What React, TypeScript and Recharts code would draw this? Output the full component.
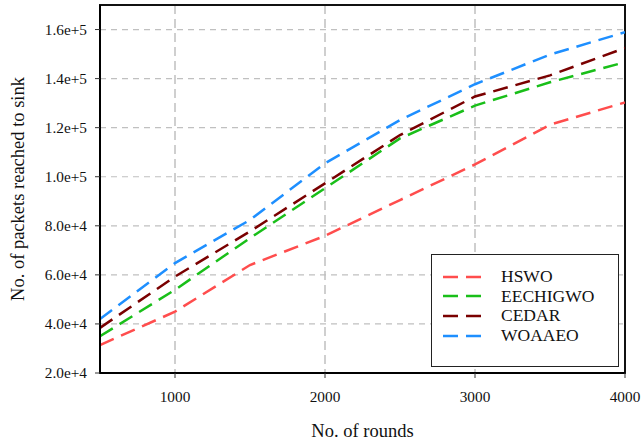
import React from 'react';
import {
  LineChart,
  Line,
  XAxis,
  YAxis,
  CartesianGrid,
  Legend,
  ReferenceArea,
} from 'recharts';

const rounds = [500, 1000, 1500, 2000, 2500, 3000, 3500, 4000];
const hswo = [31400, 45000, 64000, 75900, 90500, 105000, 121200, 130300];
const eechigwo = [35000, 53900, 75000, 95300, 115600, 129000, 138500, 146700];
const cedar = [38400, 59300, 77700, 97300, 117000, 132700, 141300, 152500];
const woaaeo = [42000, 64800, 82400, 105500, 123100, 137700, 149800, 158900];

const xTicks = [1000, 2000, 3000, 4000];
const yTicks = [20000, 40000, 60000, 80000, 100000, 120000, 140000, 160000];

const seriesNames = ['HSWO', 'EECHIGWO', 'CEDAR', 'WOAAEO'];
const seriesColors = ['#ff4d4d', '#19bf19', '#7a0000', '#1e8fff'];

const data = rounds.map((r, i) => ({
  round: r,
  HSWO: hswo[i],
  EECHIGWO: eechigwo[i],
  CEDAR: cedar[i],
  WOAAEO: woaaeo[i],
}));

const FONT = '"Liberation Serif", "Times New Roman", serif';
const DASH = '15 8';

const fmtY = (v: number) => {
  const e = Math.floor(Math.log10(v));
  const m = v / Math.pow(10, e);
  return `${m.toFixed(1)}e+${e}`;
};

const YLabel = (props: any) => {
  const vb = props.viewBox || { x: 0, y: 0, width: 0, height: 0 };
  const x = vb.x + 18;
  const y = vb.y + vb.height / 2;
  return (
    <text
      x={x}
      y={y}
      transform={`rotate(-90 ${x} ${y})`}
      textAnchor="middle"
      dominantBaseline="central"
      fontFamily={FONT}
      fontSize={18.5}
      fill="#111"
    >
      No. of packets reached to sink
    </text>
  );
};

const LegendBox = (props: any) => {
  const payload = [...(props.payload || [])].sort(
    (a: any, b: any) => seriesNames.indexOf(a.value) - seriesNames.indexOf(b.value)
  );
  return (
    <div
      style={{
        width: 175,
        height: 99,
        border: '1.5px solid #222',
        background: '#fff',
        boxSizing: 'content-box',
        paddingTop: 12,
        paddingLeft: 11,
        fontFamily: FONT,
        fontSize: 17.5,
        color: '#111',
        lineHeight: '19.6px',
      }}
    >
      {payload.map((p: any) => (
        <div key={p.value} style={{ display: 'flex', alignItems: 'center', height: 19.6 }}>
          <svg width={40} height={6} style={{ marginRight: 18 }}>
            <line x1={0} y1={3} x2={40} y2={3} stroke={p.color} strokeWidth={2.5} strokeDasharray={DASH} />
          </svg>
          <span>{p.value}</span>
        </div>
      ))}
    </div>
  );
};

export default function App() {
  return (
    <div style={{ position: 'absolute', left: 0, top: 0, background: '#fff' }}>
      <LineChart
        width={641}
        height={442}
        data={data}
        margin={{ top: 5, right: 16, left: 0, bottom: 0 }}
      >
        <CartesianGrid
          horizontal={true}
          vertical={false}
          stroke="#c0c0c0"
          strokeDasharray="6 5"
          strokeWidth={1.2}
        />
        <CartesianGrid
          horizontal={false}
          vertical={true}
          stroke="#c0c0c0"
          strokeDasharray="9 5"
          strokeWidth={1.5}
        />
        <XAxis
          dataKey="round"
          type="number"
          domain={[500, 4000]}
          ticks={xTicks}
          allowDataOverflow
          height={69}
          tickSize={5}
          tickMargin={13}
          axisLine={{ stroke: '#000', strokeWidth: 2 }}
          tickLine={{ stroke: '#333' }}
          tick={{ fontFamily: FONT, fontSize: 15.3, fill: '#111' }}
          label={{
            value: 'No. of rounds',
            position: 'insideBottom',
            offset: 5,
            fontFamily: FONT,
            fontSize: 18.5,
            fill: '#111',
          }}
        />
        <YAxis
          type="number"
          domain={[20000, 170000]}
          ticks={yTicks}
          allowDataOverflow
          width={100}
          tickSize={5}
          tickMargin={8}
          tickFormatter={fmtY}
          axisLine={{ stroke: '#000', strokeWidth: 2 }}
          tickLine={{ stroke: '#333' }}
          tick={{ fontFamily: FONT, fontSize: 15.3, fill: '#111' }}
          label={YLabel}
        />
        <ReferenceArea
          x1={500}
          x2={4000}
          y1={20000}
          y2={170000}
          fill="none"
          fillOpacity={0}
          stroke="#111"
          strokeWidth={2}
        />
        {seriesNames.map((name, i) => (
          <Line
            key={name}
            type="linear"
            dataKey={name}
            name={name}
            stroke={seriesColors[i]}
            strokeWidth={2.5}
            strokeDasharray={DASH}
            dot={false}
            activeDot={false}
            isAnimationActive={false}
          />
        ))}
        <Legend
          layout="horizontal"
          verticalAlign="middle"
          align="center"
          content={LegendBox}
          wrapperStyle={{ position: 'absolute', left: 431, top: 254, width: 'auto' }}
        />
      </LineChart>
    </div>
  );
}
